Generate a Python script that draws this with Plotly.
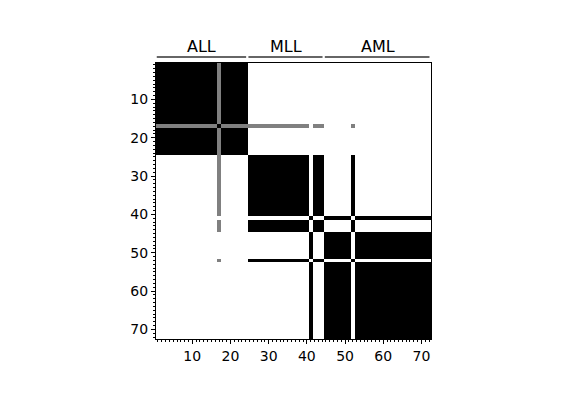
import plotly.graph_objects as go

# ---- data ----
group_labels = ["ALL", "MLL", "AML"]
group_sizes = [24, 20, 28]

# cluster assignment of each of the 72 samples (1-based sample order)
cluster = [1, 1, 1, 1, 1, 1, 1, 1, 1, 1,
           1, 1, 1, 1, 1, 1, 1, 1, 1, 1,
           1, 1, 1, 1, 2, 2, 2, 2, 2, 2,
           2, 2, 2, 2, 2, 2, 2, 2, 2, 2,
           3, 2, 2, 2, 3, 3, 3, 3, 3, 3,
           3, 2, 3, 3, 3, 3, 3, 3, 3, 3,
           3, 3, 3, 3, 3, 3, 3, 3, 3, 3,
           3, 3]
# sample that is split between clusters, and its shared value
ambiguous_sample = 17
ambiguous_clusters = [1, 2]
ambiguous_value = 0.5

x_ticks = [10, 20, 30, 40, 50, 60, 70]

# ---- build consensus matrix ----
n = len(cluster)
samples = list(range(1, n + 1))
z = []
for i in samples:
    row = []
    for j in samples:
        if i == j:
            v = 1.0
        elif i == ambiguous_sample or j == ambiguous_sample:
            other = j if i == ambiguous_sample else i
            v = ambiguous_value if cluster[other - 1] in ambiguous_clusters else 0.0
        else:
            v = 1.0 if cluster[i - 1] == cluster[j - 1] else 0.0
        row.append(v)
    z.append(row)

fig = go.Figure(go.Heatmap(
    x=samples, y=samples, z=z,
    zmin=0, zmax=1,
    colorscale=[[0, "#ffffff"], [0.5, "#808080"], [1, "#000000"]],
    showscale=False, hoverinfo="skip",
))

font = dict(family="DejaVu Sans", size=14, color="#000000")

axis_common = dict(
    showgrid=False, zeroline=False,
    showline=True, linecolor="#000000", linewidth=1, mirror=True,
    ticks="outside", ticklen=4, tickwidth=1, tickcolor="#000000",
    tickvals=x_ticks, tickfont=font,
    minor=dict(ticks="outside", ticklen=2, tickwidth=0.8, dtick=1, tick0=0.0, tickcolor="#000000"),
)

fig.update_xaxes(range=[0.5, n + 0.5], **axis_common)
fig.update_yaxes(range=[n + 0.5, 0.5], **axis_common)

# group labels and brackets
start = 1
for label, size in zip(group_labels, group_sizes):
    end = start + size - 1
    fig.add_shape(type="line", xref="x", yref="paper",
                  x0=start - 0.5 + 0.2, x1=end + 0.5 - 0.4, y0=1.022, y1=1.022,
                  line=dict(color="#333333", width=1.5))
    fig.add_annotation(x=(start + end) / 2, y=1.058, xref="x", yref="paper",
                       text=label, showarrow=False, yanchor="middle",
                       font=dict(family="DejaVu Sans", size=16, color="#000000"))
    start = end + 1

fig.update_layout(
    width=570, height=386, autosize=False,
    margin=dict(l=148, r=147, t=55, b=55),
    paper_bgcolor="#ffffff", plot_bgcolor="#ffffff",
)

fig.write_html("out.html")
